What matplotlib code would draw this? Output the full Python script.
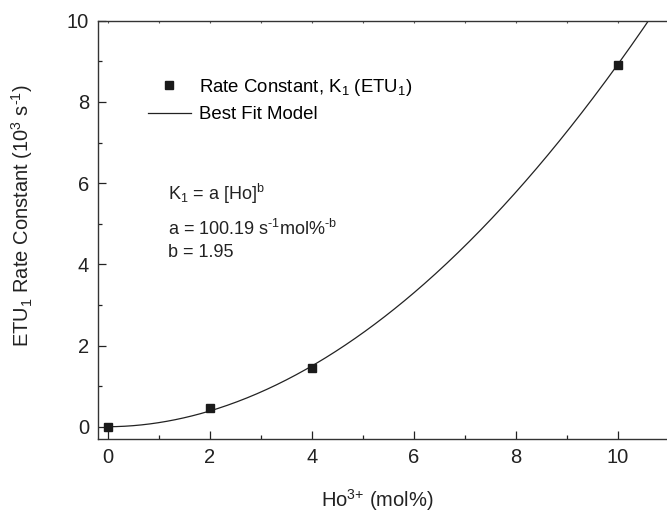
import numpy as np
import matplotlib
matplotlib.use("Agg")
import matplotlib.pyplot as plt
from matplotlib.lines import Line2D

# Data
ho_conc = [0, 2, 4, 10]
rate_const = [0.0, 0.47, 1.45, 8.91]
fit_a = 100.19   # s^-1 mol%^-b
fit_b = 1.95
x_ticks = [0, 2, 4, 6, 8, 10]
y_ticks = [0, 2, 4, 6, 8, 10]

plt.rcParams['font.family'] = ['Liberation Sans', 'DejaVu Sans']
plt.rcParams['mathtext.fontset'] = 'custom'
plt.rcParams['mathtext.rm'] = 'Liberation Sans'
plt.rcParams['mathtext.it'] = 'Liberation Sans'
plt.rcParams['mathtext.default'] = 'regular'

TXT = '#222222'
W, H = 667, 512
fig = plt.figure(figsize=(W / 100, H / 100), dpi=100)
left, right, top, bottom = 97.5, 668, 20.7, 439.3
ax = fig.add_axes([left / W, 1 - bottom / H, (right - left) / W, (bottom - top) / H])

xfit = np.linspace(0, 11, 400)
yfit = fit_a * xfit ** fit_b / 1000.0
ax.plot(xfit, yfit, color=TXT, lw=0.9)
ax.plot(ho_conc, rate_const, 's', color='#1a1a1a', ms=6.3, mec='#1a1a1a')

ax.set_xlim(-0.2, 10.98)
ax.set_ylim(-0.31, 10)
ax.set_xticks(x_ticks)
ax.set_yticks(y_ticks)
ax.set_xticks(np.arange(1, 11, 2), minor=True)
ax.set_yticks(np.arange(1, 10, 2), minor=True)
ax.tick_params(which='both', direction='in', top=False, right=False, colors=TXT,
               labelsize=14.5, width=0.9)
ax.tick_params(which='major', length=5.5)
ax.tick_params(which='minor', length=3)
ax.tick_params(axis='x', pad=6)
ax.tick_params(axis='y', pad=6)
ax.spines['right'].set_visible(False)
for s in ['left', 'bottom', 'top']:
    ax.spines[s].set_linewidth(1.0)
    ax.spines[s].set_color('#333333')

sec = ax.secondary_xaxis('top')
sec.set_xticks(np.arange(0, 11, 1))
sec.tick_params(direction='in', length=1.5, width=0.8, labeltop=False, colors='#555555')
sec.spines['top'].set_visible(False)

ax.set_xlabel(r'Ho$^{\text{3+}}$ (mol%)', fontsize=14.5, color=TXT)
ax.xaxis.set_label_coords((377 - left) / (right - left), -(487 - bottom) / (bottom - top))
ax.set_ylabel(r'ETU$_1$ Rate Constant (10$^3$ s$^{\text{-1}}$)', fontsize=14.5, color=TXT)
ax.yaxis.set_label_coords(-(left - 35) / (right - left), 0.535)

handles = [Line2D([], [], ls='none', marker='s', color='#1a1a1a', ms=6.3),
           Line2D([], [], color=TXT, lw=0.9)]
labels = ['Rate Constant, K$_1$ (ETU$_1$)', 'Best Fit Model']
ax.legend(handles, labels, loc='upper left',
          bbox_to_anchor=(148 / W, 1 - 77 / H), bbox_transform=fig.transFigure,
          frameon=False, fontsize=13.4, handlelength=2.3, handletextpad=0.45,
          labelspacing=0.45, borderpad=0, borderaxespad=0)

tx = 168 / W
fig.text(tx, 1 - 200 / H, 'K$_1$ = a [Ho]$^b$', fontsize=13, color=TXT, va='baseline')
fig.text(tx, 1 - 235 / H, r'a = 100.19 s$^{\text{-1}}$mol%$^{\text{-b}}$', fontsize=13, color=TXT, va='baseline')
fig.text(tx, 1 - 257 / H, 'b = 1.95', fontsize=13, color=TXT, va='baseline')

fig.savefig('out.png', dpi=100)
